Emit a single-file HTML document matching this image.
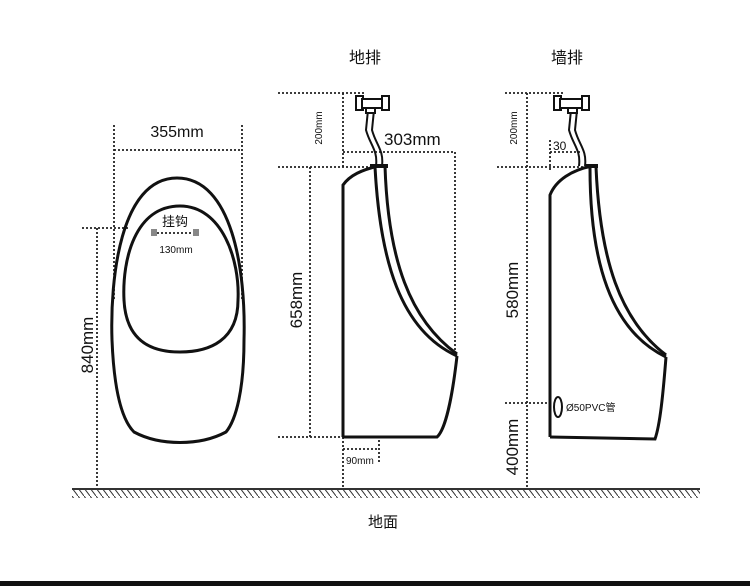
<!DOCTYPE html>
<html><head><meta charset="utf-8"><style>
html,body{margin:0;padding:0;background:#fff;width:750px;height:586px;overflow:hidden}
svg{display:block}
text{font-family:"Liberation Sans","Noto Sans CJK SC",sans-serif;fill:#111}
</style></head><body>
<svg width="750" height="586" viewBox="0 0 750 586" xmlns="http://www.w3.org/2000/svg">
<defs>
<pattern id="h" width="6" height="8" patternUnits="userSpaceOnUse">
<line x1="0" y1="0" x2="6" y2="8" stroke="#333" stroke-width="1"/>
</pattern>
</defs>
<g stroke="#222" stroke-width="1.8" fill="none" stroke-dasharray="2,2">
<line x1="114" y1="125" x2="114" y2="300"/>
<line x1="242" y1="125" x2="242" y2="300"/>
<line x1="114" y1="150" x2="242" y2="150"/>
<line x1="82" y1="228" x2="130" y2="228"/>
<line x1="97" y1="228" x2="97" y2="489"/>
<line x1="157" y1="233" x2="194" y2="233"/>
<line x1="278" y1="93" x2="365" y2="93"/>
<line x1="343" y1="93" x2="343" y2="167"/>
<line x1="278" y1="167" x2="380" y2="167"/>
<line x1="343" y1="152" x2="455" y2="152"/>
<line x1="455" y1="152" x2="455" y2="355"/>
<line x1="310" y1="167" x2="310" y2="437"/>
<line x1="278" y1="437" x2="343" y2="437"/>
<line x1="343" y1="437" x2="343" y2="489"/>
<line x1="343" y1="449" x2="379" y2="449"/>
<line x1="379" y1="440" x2="379" y2="462"/>
<line x1="505" y1="93" x2="565" y2="93"/>
<line x1="527" y1="93" x2="527" y2="489"/>
<line x1="550" y1="140" x2="550" y2="170"/>
<line x1="550" y1="152" x2="582" y2="152"/>
<line x1="497" y1="167" x2="595" y2="167"/>
<line x1="505" y1="403" x2="553" y2="403"/>
</g>
<g stroke="#111" stroke-width="3" fill="none">
<path d="M177 178 C120 178 110 280 112 340 C114 390 122 420 134 432 C160 446 200 446 226 432 C236 420 244 390 244 340 C246 270 232 178 177 178 Z"/>
<path d="M180 206 C135 206 122 260 124 300 C126 340 150 352 180 352 C210 352 238 340 238 300 C240 260 222 206 180 206 Z"/>
</g>
<rect x="151" y="229" width="6" height="7" fill="#888"/>
<rect x="193" y="229" width="6" height="7" fill="#888"/>
<g stroke="#111" stroke-width="3" fill="none">
<path d="M343 437 L343 185 C350 175 362 170 378 166"/>
<path d="M343 437 L437 437 C445 430 452 400 457 356"/>
<path d="M375 167 C380 260 400 330 457 356"/>
<path d="M385 166 C388 260 410 320 457 354"/>
<path d="M370 166 L388 166" stroke-width="4"/>
</g>
<g stroke="#111" stroke-width="2" fill="#fff">
<path d="M368 110 L366 130 C370 145 378 150 376 166" fill="none"/>
<path d="M374 110 L372 130 C376 145 384 150 382 166" fill="none"/>
<rect x="356" y="96" width="7" height="14"/>
<rect x="362" y="99" width="20" height="9"/>
<rect x="382" y="96" width="7" height="14"/>
<rect x="366" y="108" width="9" height="5"/>
</g>
<g stroke="#111" stroke-width="3" fill="none">
<path d="M550 437 L550 195 C556 180 572 170 592 166"/>
<path d="M550 437 L655 439 C660 425 663 395 666 357"/>
<path d="M590 168 C590 260 610 330 666 357"/>
<path d="M596 167 C600 260 620 320 666 355"/>
<path d="M586 166 L598 166" stroke-width="4"/>
</g>
<g stroke="#111" stroke-width="2" fill="#fff">
<path d="M571 110 L569 130 C573 145 581 150 579 166" fill="none"/>
<path d="M577 110 L575 130 C579 145 587 150 585 166" fill="none"/>
<rect x="554" y="96" width="7" height="14"/>
<rect x="560" y="99" width="22" height="9"/>
<rect x="582" y="96" width="7" height="14"/>
<rect x="568" y="108" width="9" height="5"/>
</g>
<ellipse cx="558" cy="407" rx="4" ry="10" stroke="#111" stroke-width="2" fill="none"/>
<line x1="72" y1="489" x2="700" y2="489" stroke="#333" stroke-width="2"/>
<rect x="72" y="490" width="628" height="8" fill="url(#h)"/>
<rect x="0" y="581" width="750" height="5" fill="#111"/>
<text x="365" y="63" font-size="16" text-anchor="middle">地排</text>
<text x="567" y="63" font-size="16" text-anchor="middle">墙排</text>
<text x="177" y="137" font-size="16" text-anchor="middle">355mm</text>
<text x="175" y="226" font-size="13" text-anchor="middle">挂钩</text>
<text x="176" y="253" font-size="10" text-anchor="middle">130mm</text>
<text x="384" y="145" font-size="17">303mm</text>
<text x="553" y="150" font-size="12">30</text>
<text x="346" y="464" font-size="10">90mm</text>
<text x="566" y="411" font-size="10">Ø50PVC管</text>
<text x="383" y="527" font-size="15" text-anchor="middle">地面</text>
<text transform="translate(93,345) rotate(-90)" font-size="17" text-anchor="middle">840mm</text>
<text transform="translate(302,300) rotate(-90)" font-size="17" text-anchor="middle">658mm</text>
<text transform="translate(322,128) rotate(-90)" font-size="10" text-anchor="middle">200mm</text>
<text transform="translate(517,128) rotate(-90)" font-size="10" text-anchor="middle">200mm</text>
<text transform="translate(518,290) rotate(-90)" font-size="17" text-anchor="middle">580mm</text>
<text transform="translate(518,447) rotate(-90)" font-size="17" text-anchor="middle">400mm</text>
</svg>
</body></html>
